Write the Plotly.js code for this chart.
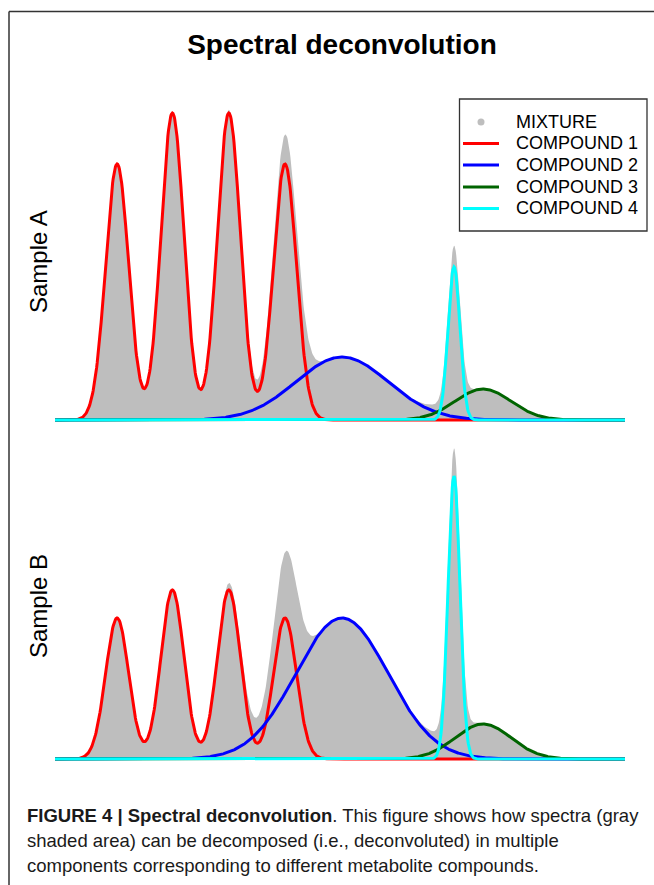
<!DOCTYPE html>
<html>
<head>
<meta charset="utf-8">
<script src="https://cdn.plot.ly/plotly-3.0.1.min.js"></script>
<style>html,body{margin:0;padding:0;background:#fff;}#chart{width:654px;height:885px;}</style>
</head>
<body>
<div id="chart"></div>
<script>
// ---------------- DATA ----------------
const chartTitle = 'Spectral deconvolution';
const sampleLabels = ['Sample A', 'Sample B'];
const mixtureName = 'MIXTURE';
const compoundNames = ['COMPOUND 1', 'COMPOUND 2', 'COMPOUND 3', 'COMPOUND 4'];

// spectral axis (arbitrary chemical-shift units)
const xStart = 0;
const xEnd = 10;
const xStep = 0.01;

// peak centres of each compound
const compound1Centers = [1.09, 2.06, 3.05, 4.035];
const compound2Centers = [5.035];
const compound3Centers = [7.51];
const compound4Centers = [7.0];

// peak widths (standard deviation) of each compound
const compound1Width = 0.202;
const compound2Width = 0.81;
const compound3Width = 0.49;
const compound4Width = 0.104;

// peak heights per sample
const sampleA_compound1 = [256, 307, 307, 256];
const sampleA_compound2 = [63];
const sampleA_compound3 = [31];
const sampleA_compound4 = [153];

const sampleB_compound1 = [141, 169, 169, 141];
const sampleB_compound2 = [141];
const sampleB_compound3 = [35];
const sampleB_compound4 = [283];

const captionLines = [
  '<b>FIGURE 4 | Spectral deconvolution</b>. This figure shows how spectra (gray',
  'shaded area) can be decomposed (i.e., deconvoluted) in multiple',
  'components corresponding to different metabolite compounds.'
];

// ---------------- STYLE ----------------
const compoundColors = ['#FF0000', '#0000FF', '#006400', '#00FFFF'];
const mixtureColor = '#BEBEBE';
const FONT = 'Liberation Sans, Arial, sans-serif';
const W = 654, H = 885;
const px = v => v / W;
const py = v => 1 - v / H;

// ---------------- BUILD ----------------
const xs = [];
for (let x = xStart; x <= xEnd + 1e-9; x += xStep) xs.push(+x.toFixed(4));

function peaks(centers, heights, width) {
  return xs.map(x => centers.reduce((s, c, i) => s + heights[i] * Math.exp(-((x - c) ** 2) / (2 * width * width)), 0));
}

const samples = [
  {c1: sampleA_compound1, c2: sampleA_compound2, c3: sampleA_compound3, c4: sampleA_compound4, xa: 'x', ya: 'y'},
  {c1: sampleB_compound1, c2: sampleB_compound2, c3: sampleB_compound3, c4: sampleB_compound4, xa: 'x2', ya: 'y2'}
];

const traces = [];
samples.forEach(s => {
  const comps = [
    peaks(compound1Centers, s.c1, compound1Width),
    peaks(compound2Centers, s.c2, compound2Width),
    peaks(compound3Centers, s.c3, compound3Width),
    peaks(compound4Centers, s.c4, compound4Width)
  ];
  const mixture = xs.map((_, i) => comps.reduce((t, c) => t + c[i], 0));
  traces.push({
    x: xs, y: mixture, xaxis: s.xa, yaxis: s.ya, type: 'scatter', mode: 'lines',
    name: mixtureName, fill: 'tozeroy', fillcolor: mixtureColor,
    line: {width: 0, color: mixtureColor}, showlegend: false, hoverinfo: 'skip'
  });
  comps.forEach((c, k) => {
    traces.push({
      x: xs, y: c, xaxis: s.xa, yaxis: s.ya, type: 'scatter', mode: 'lines',
      name: compoundNames[k], line: {width: 3, color: compoundColors[k]},
      showlegend: false, hoverinfo: 'skip'
    });
  });
});

const axisOff = {visible: false, showgrid: false, zeroline: false, fixedrange: true};

const shapes = [
  // figure frame
  {type: 'line', xref: 'paper', yref: 'paper', x0: px(9), x1: px(660), y0: py(11.5), y1: py(11.5), line: {color: '#333', width: 1.5}},
  {type: 'line', xref: 'paper', yref: 'paper', x0: px(9), x1: px(9), y0: py(11.5), y1: py(890), line: {color: '#333', width: 1.5}},
  // legend box
  {type: 'rect', xref: 'paper', yref: 'paper', x0: px(459.5), x1: px(647), y0: py(99), y1: py(231), line: {color: '#333', width: 1.3}, fillcolor: 'rgba(0,0,0,0)'},
  // mixture dot
  {type: 'circle', xref: 'paper', yref: 'paper', x0: px(477.5), x1: px(484.5), y0: py(118.5), y1: py(125.5), line: {width: 0}, fillcolor: mixtureColor}
];
const annotations = [];
const legendRows = [122, 143.5, 165, 187, 208.5];
annotations.push({xref: 'paper', yref: 'paper', x: px(514), y: py(legendRows[0]), xanchor: 'left', yanchor: 'middle',
  text: mixtureName, showarrow: false, font: {family: FONT, size: 18, color: '#000'}});
compoundNames.forEach((n, k) => {
  shapes.push({type: 'line', xref: 'paper', yref: 'paper', x0: px(463), x1: px(499), y0: py(legendRows[k + 1]), y1: py(legendRows[k + 1]),
    line: {color: compoundColors[k], width: 3}});
  annotations.push({xref: 'paper', yref: 'paper', x: px(514), y: py(legendRows[k + 1]), xanchor: 'left', yanchor: 'middle',
    text: n, showarrow: false, font: {family: FONT, size: 18, color: '#000'}});
});
// sample labels
[262, 606].forEach((yy, i) => {
  annotations.push({xref: 'paper', yref: 'paper', x: px(38), y: py(yy), xanchor: 'center', yanchor: 'middle',
    text: sampleLabels[i], textangle: -90, showarrow: false, font: {family: FONT, size: 24, color: '#000'}});
});
// caption
[815, 840, 865].forEach((yy, i) => {
  annotations.push({xref: 'paper', yref: 'paper', x: px(25), y: py(yy), xanchor: 'left', yanchor: 'middle',
    text: captionLines[i], showarrow: false, font: {family: FONT, size: 18.5, color: '#1a1a1a'}});
});

const layout = {
  width: W, height: H,
  margin: {l: 0, r: 0, t: 0, b: 0, pad: 0},
  paper_bgcolor: '#fff', plot_bgcolor: 'rgba(0,0,0,0)',
  showlegend: false,
  title: {text: '<b>' + chartTitle + '</b>', x: px(342), xanchor: 'center', y: py(44), yanchor: 'middle',
    font: {family: FONT, size: 28, color: '#000'}},
  xaxis: Object.assign({domain: [px(55), px(625)], range: [xStart, xEnd], anchor: 'y'}, axisOff),
  yaxis: Object.assign({domain: [py(425), py(95)], range: [-5, 325], anchor: 'x'}, axisOff),
  xaxis2: Object.assign({domain: [px(55), px(625)], range: [xStart, xEnd], anchor: 'y2'}, axisOff),
  yaxis2: Object.assign({domain: [py(764), py(435)], range: [-5, 324], anchor: 'x2'}, axisOff),
  shapes: shapes,
  annotations: annotations
};

Plotly.newPlot('chart', traces, layout, {displayModeBar: false, staticPlot: true});
</script>
</body>
</html>
